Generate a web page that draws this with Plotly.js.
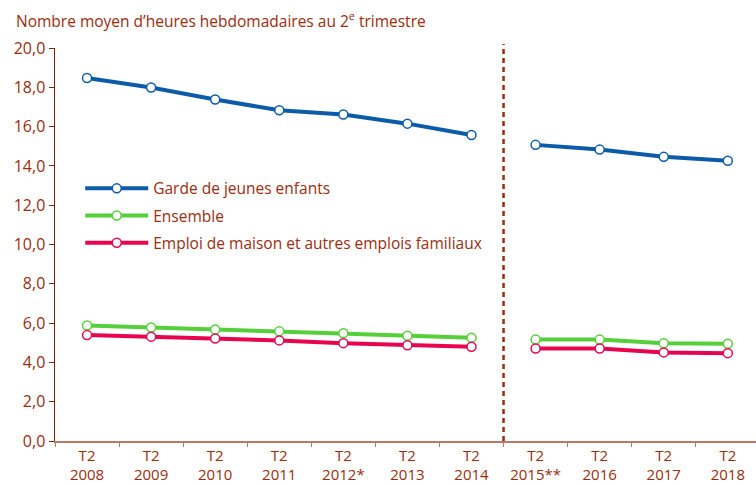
<!DOCTYPE html>
<html>
<head>
<meta charset="utf-8">
<script src="https://cdn.plot.ly/plotly-3.0.1.min.js"></script>
<style>html,body{margin:0;padding:0;background:#fff;}#chart{width:756px;height:484px;}</style>
</head>
<body>
<div id="chart"></div>
<script>
const categories = ["T2<br>2008","T2<br>2009","T2<br>2010","T2<br>2011","T2<br>2012*","T2<br>2013","T2<br>2014","T2<br>2015**","T2<br>2016","T2<br>2017","T2<br>2018"];
const gardeValues = [18.47, 17.99, 17.38, 16.83, 16.62, 16.15, 15.57, 15.07, 14.83, 14.46, 14.26];
const ensembleValues = [5.88, 5.78, 5.68, 5.58, 5.48, 5.36, 5.26, 5.16, 5.16, 4.98, 4.95];
const emploiValues = [5.39, 5.31, 5.22, 5.12, 4.98, 4.87, 4.80, 4.71, 4.71, 4.51, 4.47];
const seriesNames = ["Garde de jeunes enfants", "Ensemble", "Emploi de maison et autres emplois familiaux"];
const breakIndex = 7; // series break between 2014 and 2015**

const colors = ["#0B5BA8", "#55D03A", "#E8054F"];
const textColor = "#9C2C0E";
const font = "Open Sans, Noto Sans, sans-serif";

const allValues = [gardeValues, ensembleValues, emploiValues];
const traces = [];
allValues.forEach((vals, s) => {
  [[0, breakIndex], [breakIndex, categories.length]].forEach(([a, b], k) => {
    traces.push({
      type: "scatter", mode: "lines+markers",
      x: categories.slice(a, b), y: vals.slice(a, b),
      name: seriesNames[s], legendgroup: "g" + s, showlegend: k === 0,
      line: {color: colors[s], width: 4},
      marker: {symbol: "circle", size: 9, color: "#ffffff", line: {color: colors[s], width: 1.5}},
      hoverinfo: "skip"
    });
  });
});

const layout = {
  width: 756, height: 484,
  margin: {l: 55, r: 0, t: 48, b: 43},
  paper_bgcolor: "#ffffff", plot_bgcolor: "#ffffff",
  font: {family: font, size: 15.5, color: textColor},
  separators: ", ",
  showlegend: true,
  legend: {
    x: 0.036, y: 0.685, xanchor: "left", yanchor: "top",
    font: {family: font, size: 15.5, color: textColor},
    bgcolor: "rgba(0,0,0,0)", traceorder: "grouped", tracegroupgap: 4,
    itemwidth: 63
  },
  xaxis: {
    type: "category", categoryorder: "array", categoryarray: categories,
    range: [-0.5, 10.44], tickson: "boundaries",
    showline: true, linecolor: "#B87A66", linewidth: 1.5,
    ticks: "outside", ticklen: 4, tickcolor: "#B87A66", tickwidth: 1,
    showgrid: false, zeroline: false, fixedrange: true,
    tickfont: {family: font, size: 15, color: textColor}
  },
  yaxis: {
    range: [0, 20], dtick: 2, tickformat: ".1f",
    showline: true, linecolor: "#7A2410", linewidth: 1.5,
    ticks: "outside", ticklen: 5, tickcolor: "#7A2410",
    showgrid: false, zeroline: false, fixedrange: true,
    tickfont: {family: font, size: 16, color: textColor}
  },
  shapes: [{
    type: "line", xref: "x", yref: "paper", x0: 6.5, x1: 6.5, y0: 0, y1: 1.01,
    line: {color: "#9C2C0E", width: 2.5, dash: "5px,4px"}
  }],
  annotations: [{
    xref: "paper", yref: "paper", x: -0.058, y: 1.072, xanchor: "left", yanchor: "middle",
    text: "Nombre moyen d’heures hebdomadaires au 2<sup>e</sup> trimestre",
    showarrow: false, font: {family: font, size: 15.5, color: textColor}
  }]
};

Plotly.newPlot("chart", traces, layout, {staticPlot: true, displayModeBar: false});
</script>
</body>
</html>
